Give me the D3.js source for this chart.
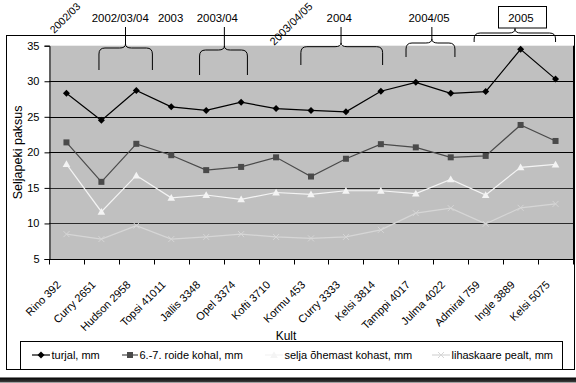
<!DOCTYPE html>
<html>
<head>
<meta charset="utf-8">
<script src="https://cdn.jsdelivr.net/npm/d3@7"></script>
<style>
  html, body { margin: 0; padding: 0; background: #fff; }
  svg { display: block; font-family: "Liberation Sans", Arial, sans-serif; }
</style>
</head>
<body>
<svg id="chart" width="576" height="383"></svg>
<script>
// Cultivars along the x axis
const categories = ["Rino 392", "Curry 2651", "Hudson 2958", "Topsi 41011", "Jallis 3348",
  "Opel 3374", "Kofti 3710", "Kormu 453", "Curry 3333", "Kelsi 3814", "Tamppi 4017",
  "Julma 4022", "Admiral 759", "Ingle 3889", "Kelsi 5075"];

// Backfat thickness series (mm)
const turjal = [28.3, 24.5, 28.7, 26.4, 25.9, 27.05, 26.15, 25.9, 25.7, 28.6, 29.85, 28.3, 28.55, 34.5, 30.3];
const roide = [21.4, 15.85, 21.2, 19.6, 17.5, 17.95, 19.3, 16.6, 19.1, 21.15, 20.7, 19.3, 19.5, 23.85, 21.6];
const selja = [18.35, 11.65, 16.75, 13.6, 14.0, 13.4, 14.35, 14.1, 14.6, 14.6, 14.2, 16.2, 14.0, 17.9, 18.3];
const lihaskaare = [8.5, 7.8, 9.7, 7.8, 8.1, 8.5, 8.1, 7.9, 8.1, 9.1, 11.45, 12.15, 9.95, 12.2, 12.75];

const seriesNames = ["turjal, mm", "6.-7. roide kohal, mm", "selja õhemast kohast, mm", "lihaskaare pealt, mm"];
const yTicks = [5, 10, 15, 20, 25, 30, 35];

// Year groups written above the plot
const yearLabels = ["2002/03", "2002/03/04", "2003", "2003/04", "2003/04/05", "2004", "2004/05", "2005"];

const svg = d3.select("#chart");
const W = 576, H = 383;
const plot = { left: 49, right: 573, top: 45.7, bottom: 259 };

const x = d3.scalePoint().domain(categories).range([plot.left, plot.right]).padding(0.5);
const step = x.step();
const y = d3.scaleLinear().domain([5, 35]).range([plot.bottom, plot.top]);
// fractional category position -> pixel
const xi = i => x(categories[0]) + i * step;

// outer frame
svg.append("rect").attr("x", 6.5).attr("y", 35.5).attr("width", 568).attr("height", 334)
  .attr("fill", "#fff").attr("stroke", "#000").attr("stroke-width", 1);

// plot background
svg.append("rect").attr("x", plot.left).attr("y", plot.top)
  .attr("width", plot.right - plot.left).attr("height", plot.bottom - plot.top)
  .attr("fill", "#c0c0c0");

// gridlines
svg.append("g").selectAll("line").data(yTicks.filter(t => t > 5 && t < 35)).join("line")
  .attr("x1", plot.left).attr("x2", plot.right)
  .attr("y1", d => Math.round(y(d)) + 0.5).attr("y2", d => Math.round(y(d)) + 0.5)
  .attr("stroke", d => d >= 20 ? "#000" : "#2a2a2a").attr("stroke-width", 1);

// right edge of plot
svg.append("line").attr("x1", plot.right + 0.5).attr("x2", plot.right + 0.5)
  .attr("y1", plot.top).attr("y2", plot.bottom).attr("stroke", "#000");

// y axis
const yAxis = d3.axisLeft(y).tickValues(yTicks).tickSize(5).tickPadding(5);
const gy = svg.append("g").attr("transform", `translate(${plot.left + 0.5},0)`).call(yAxis);
gy.select(".domain").attr("stroke", "#000");
gy.selectAll("text").attr("font-size", 11).attr("fill", "#000")
  .attr("font-family", "Liberation Sans, Arial, sans-serif");

// x axis with tick marks between categories
const gx = svg.append("g").attr("transform", `translate(0,${Math.round(plot.bottom) + 0.5})`);
gx.append("line").attr("x1", plot.left).attr("x2", plot.right + 1).attr("stroke", "#000");
gx.selectAll("line.tk").data(d3.range(categories.length + 1)).join("line").attr("class", "tk")
  .attr("x1", i => Math.round(plot.left + i * step) + 0.5)
  .attr("x2", i => Math.round(plot.left + i * step) + 0.5)
  .attr("y1", 0).attr("y2", 5).attr("stroke", "#000");
gx.selectAll("text").data(categories).join("text")
  .attr("transform", d => `translate(${x(d) - 5},${26}) rotate(-45)`)
  .attr("text-anchor", "end").attr("font-size", 11).attr("fill", "#000")
  .text(d => d);

// axis titles
svg.append("text").attr("x", 286).attr("y", 339.5).attr("text-anchor", "middle")
  .attr("font-size", 12).text("Kult");
svg.append("text").attr("transform", `translate(22,${(plot.top + plot.bottom) / 2}) rotate(-90)`)
  .attr("text-anchor", "middle").attr("font-size", 12.5).text("Seljapeki paksus");

// series
const series = [
  { name: seriesNames[0], values: turjal, stroke: "#000", fill: "#000", marker: "diamond" },
  { name: seriesNames[1], values: roide, stroke: "#4a4a4a", fill: "#4a4a4a", marker: "square" },
  { name: seriesNames[2], values: selja, stroke: "#f4f4f4", fill: "#f4f4f4", marker: "triangle" },
  { name: seriesNames[3], values: lihaskaare, stroke: "#d6d6d6", fill: "none", marker: "cross" }
];

function drawMarker(g, type, color, cx, cy) {
  if (type === "diamond") {
    g.append("path").attr("d", `M${cx},${cy - 3.5}L${cx + 3.5},${cy}L${cx},${cy + 3.5}L${cx - 3.5},${cy}Z`)
      .attr("fill", color);
  } else if (type === "square") {
    g.append("rect").attr("x", cx - 3).attr("y", cy - 3).attr("width", 6).attr("height", 6)
      .attr("fill", color);
  } else if (type === "triangle") {
    g.append("path").attr("d", `M${cx},${cy - 3.8}L${cx + 3.8},${cy + 3}L${cx - 3.8},${cy + 3}Z`)
      .attr("fill", color);
  } else {
    g.append("path").attr("d", `M${cx - 3},${cy - 3}L${cx + 3},${cy + 3}M${cx + 3},${cy - 3}L${cx - 3},${cy + 3}`)
      .attr("stroke", color).attr("stroke-width", 1);
  }
}

const line = d3.line().x((d, i) => x(categories[i])).y(d => y(d));
series.slice().reverse().forEach(s => {
  const g = svg.append("g");
  g.append("path").datum(s.values).attr("d", line).attr("fill", "none")
    .attr("stroke", s.stroke).attr("stroke-width", 1.2);
  s.values.forEach((v, i) => drawMarker(g, s.marker, s.marker === "cross" ? s.stroke : s.fill, x(categories[i]), y(v)));
});

// legend
svg.append("rect").attr("x", 20.5).attr("y", 341.5).attr("width", 542).attr("height", 40)
  .attr("fill", "#fff").attr("stroke", "#000");
const legendX = [32, 122, 265, 432];
const legendLen = [18, 16, 18, 18];
series.forEach((s, i) => {
  const g = svg.append("g");
  const lx = legendX[i], ly = 355;
  g.append("line").attr("x1", lx).attr("x2", lx + legendLen[i]).attr("y1", ly).attr("y2", ly)
    .attr("stroke", s.stroke).attr("stroke-width", 1.2);
  drawMarker(g, s.marker, s.marker === "cross" ? s.stroke : s.fill, lx + legendLen[i] / 2, ly);
  g.append("text").attr("x", lx + legendLen[i] + 1.5).attr("y", ly + 4).attr("font-size", 11)
    .text(s.name);
});
// frame bottom covers legend bottom
svg.append("rect").attr("x", 0).attr("y", 370).attr("width", W).attr("height", 13).attr("fill", "#fff");
svg.append("line").attr("x1", 6.5).attr("x2", 574.5).attr("y1", 369.5).attr("y2", 369.5).attr("stroke", "#000");
const grad = svg.append("defs").append("linearGradient").attr("id", "bar")
  .attr("x1", 0).attr("x2", 0).attr("y1", 0).attr("y2", 1);
grad.append("stop").attr("offset", 0).attr("stop-color", "#000");
grad.append("stop").attr("offset", 1).attr("stop-color", "#444");
svg.append("rect").attr("x", 0).attr("y", 377.5).attr("width", W).attr("height", 5).attr("fill", "url(#bar)");

// year annotations: horizontal labels with braces, rotated labels without
const yearLayout = [
  { rot: true, at: -0.35, y: 34, size: 10.5 },
  { at: 1.54, brace: [0.93, 2.46, 1.69], top: 48, bot: 70 },
  { at: 2.98 },
  { at: 4.32, brace: [3.81, 5.18, 4.52], top: 50, bot: 75 },
  { rot: true, at: 5.95, y: 46, size: 11 },
  { at: 7.81, brace: [6.71, 9.05, 7.86], top: 46.7, bot: 65 },
  { at: 10.38, brace: [9.72, 11.12, 10.46], top: 43, bot: 57 },
  { at: 13.01, brace: [11.67, 14.0, 12.84], top: 33, bot: 42, boxed: true }
];

function bracePath(x0, x1, xm, yt, yb) {
  const r = 6, c = 4;
  return `M${x0},${yb}L${x0},${yt + r}Q${x0},${yt} ${x0 + r},${yt}` +
    `L${xm - r},${yt}Q${xm},${yt} ${xm},${yt - c}Q${xm},${yt} ${xm + r},${yt}` +
    `L${x1 - r},${yt}Q${x1},${yt} ${x1},${yt + r}L${x1},${yb}`;
}

const ann = svg.append("g");
yearLabels.forEach((lab, i) => {
  const L = yearLayout[i];
  if (L.rot) {
    ann.append("text").attr("transform", `translate(${xi(L.at)},${L.y}) rotate(-45)`)
      .attr("font-size", L.size).text(lab);
    return;
  }
  ann.append("text").attr("x", xi(L.at)).attr("y", 22).attr("text-anchor", "middle")
    .attr("font-size", 11.4).text(lab);
  if (L.boxed) {
    ann.append("rect").attr("x", 498.5).attr("y", 6.5).attr("width", 48).attr("height", 21.5)
      .attr("fill", "none").attr("stroke", "#000");
  }
  if (L.brace) {
    const [a, b, m] = L.brace;
    const xm = xi(m);
    ann.append("path").attr("d", bracePath(xi(a), xi(b), xm, L.top, L.bot))
      .attr("fill", "none").attr("stroke", "#000").attr("stroke-width", 1);
    ann.append("line").attr("x1", xm).attr("x2", xm).attr("y1", L.top - 4).attr("y2", L.boxed ? 28 : 27)
      .attr("stroke", "#000");
  }
});
</script>
</body>
</html>
